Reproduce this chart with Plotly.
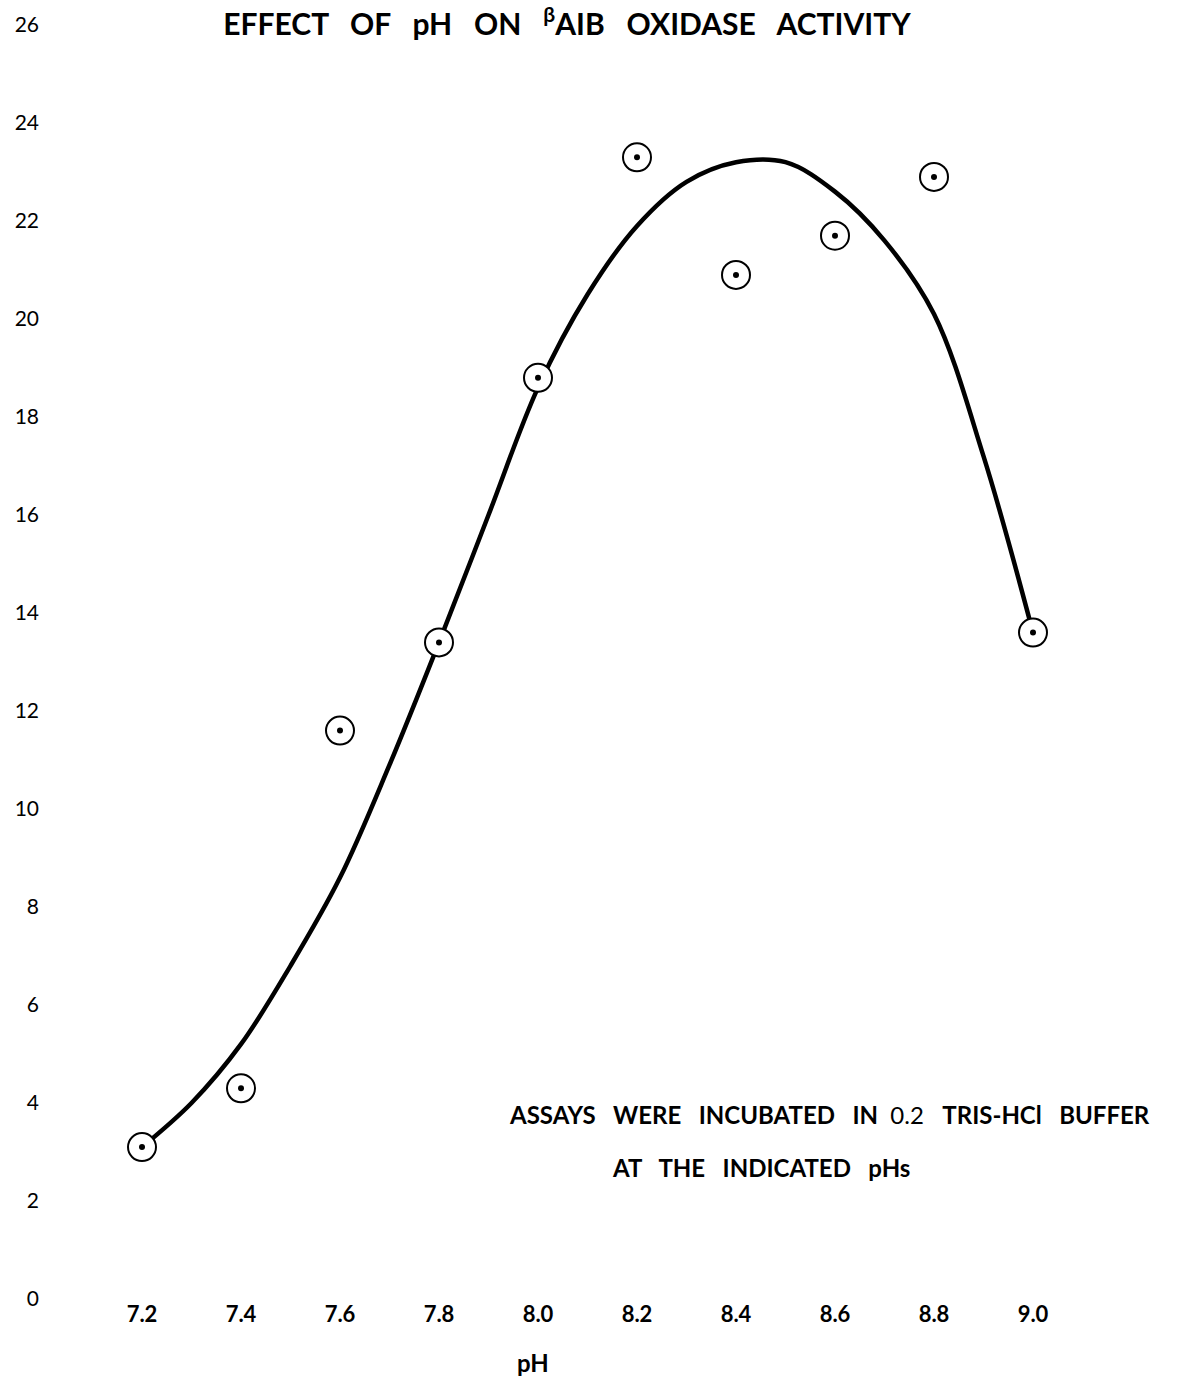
import plotly.graph_objects as go

# Measured enzyme activity at each assay pH
ph_values = [7.2, 7.4, 7.6, 7.8, 8.0, 8.2, 8.4, 8.6, 8.8, 9.0]
activity = [3.1, 4.3, 11.6, 13.4, 18.8, 23.3, 20.9, 21.7, 22.9, 13.6]

# Hand-drawn trend curve through the measurements
curve_ph = [7.2, 7.3, 7.4, 7.5, 7.6, 7.7, 7.8, 7.9, 8.0, 8.1, 8.2,
            8.3, 8.4, 8.5, 8.6, 8.7, 8.8, 8.9, 9.0]
curve_activity = [3.1, 4.0, 5.2, 6.8, 8.6, 10.9, 13.4, 16.0, 18.6, 20.5, 21.9,
                  22.8, 23.2, 23.2, 22.6, 21.6, 20.1, 17.2, 13.6]

x_ticks = [7.2, 7.4, 7.6, 7.8, 8.0, 8.2, 8.4, 8.6, 8.8, 9.0]
x_tick_labels = ["7.2", "7.4", "7.6", "7.8", "8.0", "8.2", "8.4", "8.6", "8.8", "9.0"]
y_ticks = list(range(0, 27, 2))

FONT = "Lato"
NB = "\u00a0"
GAP = NB * 3

fig = go.Figure()

fig.add_trace(go.Scatter(
    x=curve_ph, y=curve_activity, mode="lines",
    line=dict(color="black", width=4.5, shape="spline", smoothing=1.0),
    hoverinfo="skip", showlegend=False,
))

fig.add_trace(go.Scatter(
    x=ph_values, y=activity, mode="markers",
    marker=dict(symbol="circle", size=28, color="white",
                line=dict(color="black", width=2)),
    showlegend=False,
))

fig.add_trace(go.Scatter(
    x=ph_values, y=activity, mode="markers",
    marker=dict(symbol="circle", size=6, color="black", line=dict(width=0)),
    hoverinfo="skip", showlegend=False,
))

title_text = GAP.join(["EFFECT", "OF", "pH", "ON", "<sup>β</sup>AIB", "OXIDASE", "ACTIVITY"])
line1 = "<b>" + GAP.join(["ASSAYS", "WERE", "INCUBATED", "IN"]) + "</b>" + NB * 2 + "0.2" + GAP + \
        "<b>" + GAP.join(["TRIS-HCl", "BUFFER"]) + "</b>"
line2 = "<b>" + GAP.join(["AT", "THE", "INDICATED", "pHs"]) + "</b>"

fig.update_layout(
    width=1204, height=1378,
    margin=dict(l=40, r=4, t=20, b=79),
    paper_bgcolor="white", plot_bgcolor="white",
    font=dict(family=FONT, color="black"),
    title=dict(text="<b>" + title_text + "</b>", x=567 / 1204, xanchor="center",
               y=1 - 24 / 1378, yanchor="middle",
               font=dict(family=FONT, size=30, color="black")),
    xaxis=dict(range=[6.99394, 9.33737], tickvals=x_ticks, ticktext=x_tick_labels,
               showgrid=False, zeroline=False, showline=False, ticks="",
               tickfont=dict(family=FONT, size=22, color="black", weight="bold")),
    yaxis=dict(range=[0, 26.102], tickvals=y_ticks,
               showgrid=False, zeroline=False, showline=False, ticks="",
               tickfont=dict(family=FONT, size=21, color="black")),
    annotations=[
        dict(text=line1, xref="paper", yref="paper", x=(829 - 40) / 1160,
             y=(1378 - 79 - 1114) / 1279, xanchor="center", yanchor="middle",
             showarrow=False, font=dict(family=FONT, size=24, color="black")),
        dict(text=line2, xref="paper", yref="paper", x=(761 - 40) / 1160,
             y=(1378 - 79 - 1167) / 1279, xanchor="center", yanchor="middle",
             showarrow=False, font=dict(family=FONT, size=24, color="black")),
        dict(text="<b>pH</b>", xref="paper", yref="paper", x=(533 - 40) / 1160,
             y=(1378 - 79 - 1362) / 1279, xanchor="center", yanchor="middle",
             showarrow=False, font=dict(family=FONT, size=24, color="black")),
    ],
)

fig.write_html("out.html")
